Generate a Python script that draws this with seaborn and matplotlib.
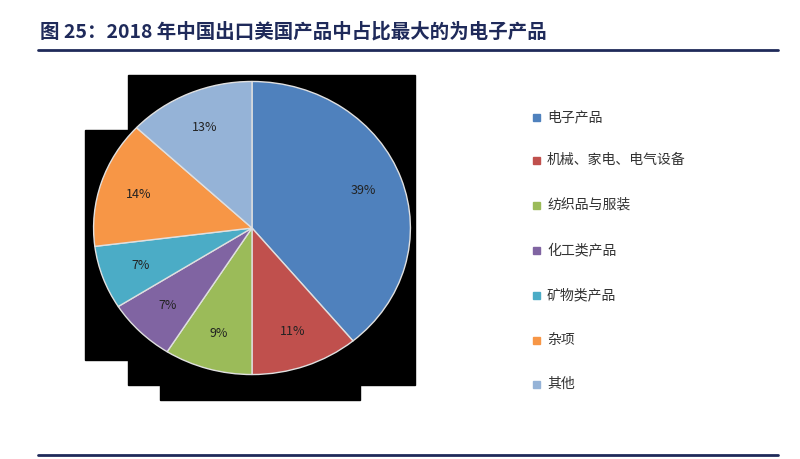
import matplotlib
matplotlib.use("Agg")
import matplotlib.pyplot as plt
import matplotlib.patches as mpatches
import seaborn as sns

categories = ["电子产品", "机械、家电、电气设备", "纺织品与服装", "化工类产品", "矿物类产品", "杂项", "其他"]
shares = [39, 11, 9, 7, 7, 14, 13]
colors = ["#4f81bd", "#c0504d", "#9bbb59", "#8064a2", "#4bacc6", "#f79646", "#95b3d7"]

sns.set_theme(style="white")
plt.rcParams['font.family'] = ['Noto Sans CJK SC', 'DejaVu Sans']

W, H = 800, 459
fig = plt.figure(figsize=(8, 4.59), dpi=100)

def fx(x): return x / W
def fy(y): return 1 - y / H

# title and rules
fig.text(fx(40), fy(32), "图 25：2018 年中国出口美国产品中占比最大的为电子产品",
         fontsize=14, fontweight="bold", color="#1f2a5a", va="center", ha="left")
fig.add_artist(plt.Line2D([fx(38), fx(778)], [fy(50), fy(50)], color="#1f2a5a", lw=2))
fig.add_artist(plt.Line2D([fx(38), fx(778)], [fy(455), fy(455)], color="#1f2a5a", lw=2))

# black scan shadow behind the pie
for (x0, y0, x1, y1) in [(128, 75, 415, 385), (85, 130, 130, 360), (160, 360, 360, 400)]:
    fig.add_artist(mpatches.Rectangle((fx(x0), fy(y1)), fx(x1 - x0), (y1 - y0) / H,
                                      color="black", zorder=0))

ax = fig.add_axes([fx(92), fy(376), fx(320), 296 / H])
ax.pie(shares, colors=colors, startangle=90, counterclock=False,
       autopct="%d%%", pctdistance=0.75,
       wedgeprops=dict(edgecolor="#e0e0e0", linewidth=1),
       textprops=dict(fontsize=9, color="#222222"))
ax.set_aspect("auto")
ax.set_xlim(-1.01, 1.01)
ax.set_ylim(-1.01, 1.01)
ax.axis("off")

# legend
ys = [117, 160, 205, 250, 295, 340, 384]
for cat, col, y in zip(categories, colors, ys):
    fig.add_artist(mpatches.Rectangle((fx(533), fy(y + 4)), fx(7), 7 / H, color=col))
    fig.text(fx(547), fy(y), cat, fontsize=10, color="#333333", va="center", ha="left")

fig.savefig("out.png", dpi=100)
